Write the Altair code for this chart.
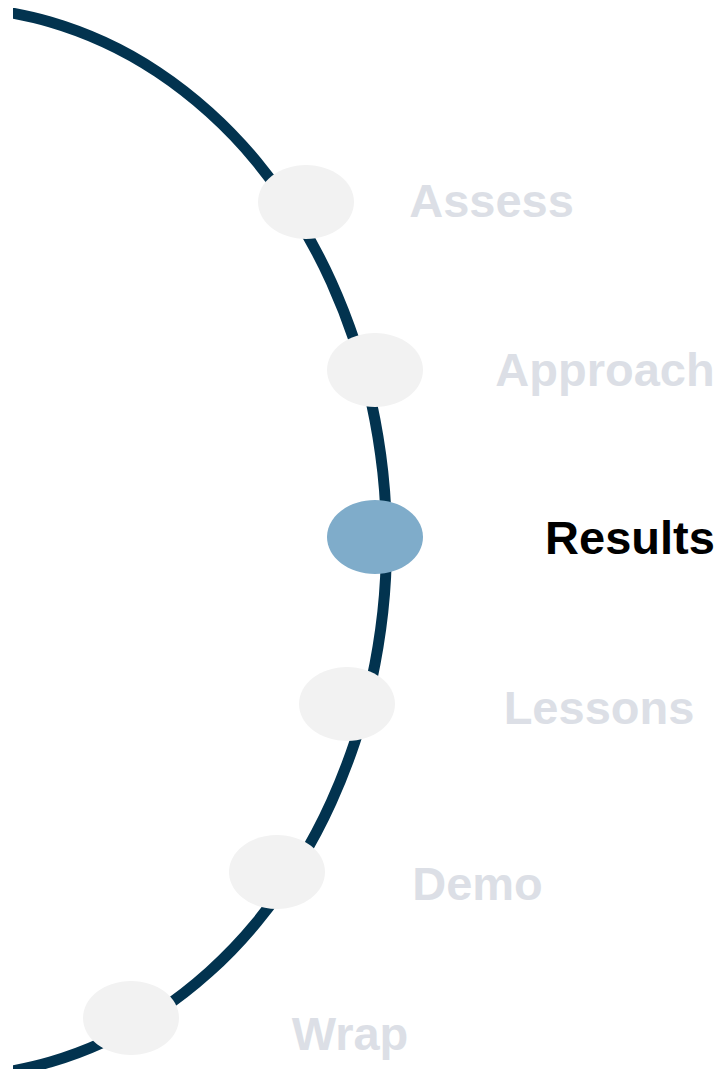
import altair as alt
import pandas as pd

# ---- data ----
steps = ["Assess", "Approach", "Results", "Lessons", "Demo", "Wrap"]
state = ["idle", "idle", "active", "idle", "idle", "idle"]
node_x = [306, 375, 375, 347, 277, 131]
node_y = [202, 370, 537, 704, 872, 1018]
label_x = [491.5, 605, 630, 599, 477.5, 350]
label_y = [216.7, 385.7, 554, 724, 900, 1050]   # text baselines

# timeline arc (top to bottom)
arc_x = [-20, 0, 13.3, 50.3, 103.9, 157.6, 209.1, 256.9, 299.5, 331.3, 354.8,
         371.3, 382.8, 386.5, 382.8, 371.3, 354.8, 331.3, 299.5, 256.9, 209.1,
         157.6, 103.9, 50.3, 13.3, 0, -20]
arc_y = [9, 11.2, 13.3, 22, 42, 72, 112, 162, 222, 282, 342,
         402, 472, 542, 612, 682, 742, 802, 862, 922, 972,
         1012, 1042, 1062, 1070.7, 1072.8, 1075]

NAVY = "#02334F"
IDLE = "#F2F2F2"
ACTIVE = "#7FACCA"
TXT_IDLE = "#DCDFE6"
TXT_ACTIVE = "#000000"

ELLIPSE = "M -1 0 A 1 0.771 0 1 1 1 0 A 1 0.771 0 1 1 -1 0 Z"

arc_df = pd.DataFrame({"x": arc_x, "y": arc_y, "i": list(range(len(arc_x)))})
node_df = pd.DataFrame({"step": steps, "state": state, "x": node_x, "y": node_y,
                        "lx": label_x, "ly": label_y})

W, H = 702, 1061
xs = alt.Scale(domain=[13, 13 + W], nice=False, zero=False)
ys = alt.Scale(domain=[8, 8 + H], reverse=True, nice=False, zero=False)

line = alt.Chart(arc_df).mark_line(
    color=NAVY, strokeWidth=11, interpolate="natural", clip=True, strokeCap="butt"
).encode(
    x=alt.X("x:Q", scale=xs, axis=None),
    y=alt.Y("y:Q", scale=ys, axis=None),
    order="i:Q",
)

nodes = alt.Chart(node_df).mark_point(
    shape=ELLIPSE, size=9216, filled=True, opacity=1, strokeWidth=0
).encode(
    x=alt.X("x:Q", scale=xs, axis=None),
    y=alt.Y("y:Q", scale=ys, axis=None),
    color=alt.Color("state:N", scale=alt.Scale(domain=["idle", "active"], range=[IDLE, ACTIVE]), legend=None),
)

labels = alt.Chart(node_df).mark_text(
    font="Liberation Sans", fontWeight="bold", fontSize=47, align="center", baseline="alphabetic"
).encode(
    x=alt.X("lx:Q", scale=xs, axis=None),
    y=alt.Y("ly:Q", scale=ys, axis=None),
    text="step:N",
    color=alt.Color("state:N", scale=alt.Scale(domain=["idle", "active"], range=[TXT_IDLE, TXT_ACTIVE]), legend=None),
)

chart = alt.layer(line, nodes, labels).resolve_scale(color="independent").properties(
    width=W, height=H,
    padding={"left": 5, "top": 0, "right": 0, "bottom": 0},
    autosize=alt.AutoSizeParams(type="none"),
).configure_view(stroke=None)

chart.save("out.html", embed_options={"renderer": "svg", "actions": False})
